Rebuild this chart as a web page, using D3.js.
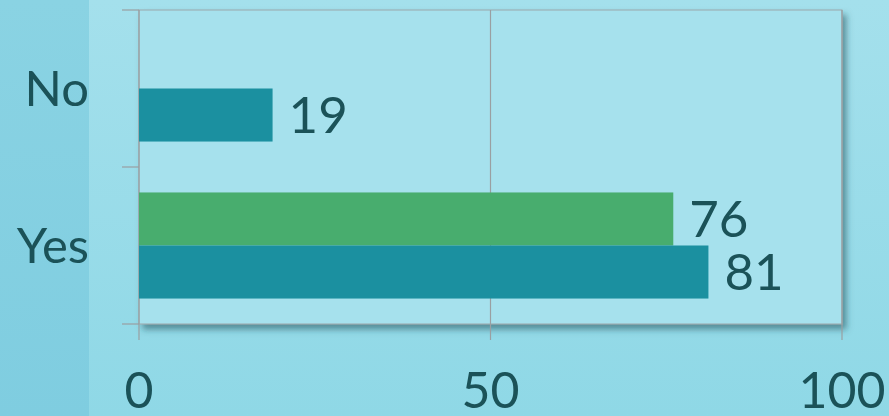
<!DOCTYPE html>
<html>
<head>
<meta charset="utf-8">
<script src="https://cdn.jsdelivr.net/npm/d3@7"></script>
<style>
  body { margin: 0; overflow: hidden; }
  text { font-family: Lato, "Open Sans", sans-serif; fill: #1b5258; }
</style>
</head>
<body>
<script>
// data
var categories = ["No", "Yes"];
var seriesNames = ["Series 2", "Series 1"];        // green first (top), teal below
var seriesColors = ["#48ad6e", "#1b90a0"];
var seriesValues = [
  [null, 76],   // green
  [19, 81]      // teal
];
var xTicks = [0, 50, 100];

var W = 889, H = 416;
var margin = { left: 139, right: 47, top: 10, bottom: 92 };
var pw = W - margin.left - margin.right,
    ph = H - margin.top - margin.bottom;

var svg = d3.select("body").append("svg")
  .attr("width", W)
  .attr("height", H);

var defs = svg.append("defs");
var bg = defs.append("linearGradient").attr("id", "bg")
  .attr("x1", 0).attr("y1", 0).attr("x2", 0).attr("y2", 1);
bg.append("stop").attr("offset", "0%").attr("stop-color", "#a4e0ec");
bg.append("stop").attr("offset", "100%").attr("stop-color", "#8fd8e6");

var lp = defs.append("linearGradient").attr("id", "lp")
  .attr("x1", 0).attr("y1", 0).attr("x2", 0).attr("y2", 1);
lp.append("stop").attr("offset", "0%").attr("stop-color", "#8ad3e3");
lp.append("stop").attr("offset", "100%").attr("stop-color", "#7fcde0");

var shadow = defs.append("filter").attr("id", "shadow")
  .attr("x", "-5%").attr("y", "-5%").attr("width", "115%").attr("height", "125%");
shadow.append("feDropShadow")
  .attr("dx", 4).attr("dy", 5).attr("stdDeviation", 3)
  .attr("flood-color", "#1d4f5a").attr("flood-opacity", 0.55);

svg.append("rect").attr("width", W).attr("height", H).attr("fill", "url(#bg)");
svg.append("rect").attr("width", 89).attr("height", H).attr("fill", "url(#lp)");

var x = d3.scaleLinear().domain([0, 100]).range([0, pw]);
var y = d3.scaleBand().domain(categories).range([0, ph]);
var inner = d3.scaleBand().domain(d3.range(seriesNames.length))
  .range([0, y.bandwidth()]).paddingOuter(0.48).paddingInner(0);

var g = svg.append("g").attr("transform", "translate(" + margin.left + "," + margin.top + ")");

// plot area with shadow
g.append("rect")
  .attr("width", pw).attr("height", ph)
  .attr("fill", "#a6e1ed")
  .attr("stroke", "#9aa7ab").attr("stroke-width", 1)
  .attr("filter", "url(#shadow)");

// vertical grid lines
g.selectAll(".grid").data(xTicks)
  .enter().append("line")
  .attr("x1", function(d) { return x(d); })
  .attr("x2", function(d) { return x(d); })
  .attr("y1", 0).attr("y2", ph + 16)
  .attr("stroke", "#9a9fa2").attr("stroke-width", 1.2);

// category ticks on left
var yEdges = [0, ph / 2, ph];
g.selectAll(".ytick").data(yEdges)
  .enter().append("line")
  .attr("x1", -17).attr("x2", 0)
  .attr("y1", function(d) { return d; })
  .attr("y2", function(d) { return d; })
  .attr("stroke", "#9a9fa2").attr("stroke-width", 1.2);

// bars
seriesValues.forEach(function(vals, si) {
  var rows = categories.map(function(c, i) { return { cat: c, v: vals[i] }; })
    .filter(function(d) { return d.v != null; });

  g.selectAll(".bar" + si).data(rows)
    .enter().append("rect")
    .attr("x", 0)
    .attr("y", function(d) { return y(d.cat) + inner(si); })
    .attr("width", function(d) { return x(d.v); })
    .attr("height", inner.bandwidth())
    .attr("fill", seriesColors[si]);

  g.selectAll(".lbl" + si).data(rows)
    .enter().append("text")
    .attr("x", function(d) { return x(d.v) + 16; })
    .attr("y", function(d) { return y(d.cat) + inner(si) + inner.bandwidth() / 2; })
    .attr("dy", "0.36em")
    .attr("font-size", 51)
    .text(function(d) { return d.v; });
});

// category labels
g.selectAll(".cat").data(categories)
  .enter().append("text")
  .attr("x", -50)
  .attr("y", function(d) { return y(d) + y.bandwidth() / 2; })
  .attr("dy", "0.36em")
  .attr("text-anchor", "end")
  .attr("font-size", 49)
  .text(function(d) { return d; });

// x tick labels
g.selectAll(".xl").data(xTicks)
  .enter().append("text")
  .attr("x", function(d) { return x(d); })
  .attr("y", ph + 84)
  .attr("text-anchor", "middle")
  .attr("font-size", 50)
  .text(function(d) { return d; });
</script>
</body>
</html>
